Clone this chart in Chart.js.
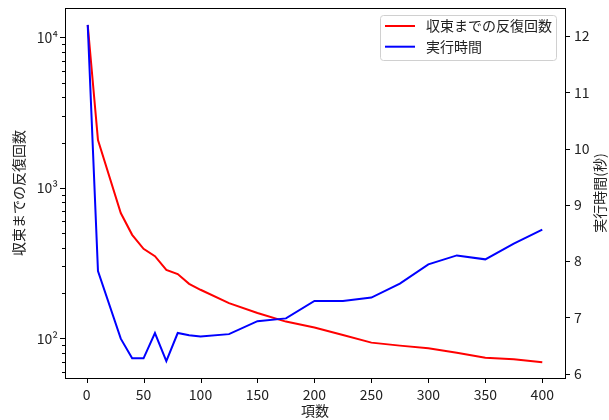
<!DOCTYPE html>
<html>
<head>
<meta charset="utf-8">
<script src="https://cdn.jsdelivr.net/npm/chart.js@4/dist/chart.umd.min.js"></script>
<style>
  html, body { margin: 0; padding: 0; background: #fff; }
  #wrap { width: 609px; height: 420px; position: relative; }
</style>
</head>
<body>
<div id="wrap"><canvas id="chart"></canvas></div>
<script>
// 項数 (x values)
const termCounts = [1, 10, 30, 40, 50, 60, 70, 80, 90, 100, 125, 150, 175, 200, 225, 250, 275, 300, 325, 350, 375, 400];
// 収束までの反復回数 (left, log scale)
const iterations = [12100, 2080, 680, 487, 393, 351, 285, 267, 230, 210, 171, 147, 129, 118, 105, 93.5, 89.3, 85.8, 80.2, 74.3, 72.5, 69.2];
// 実行時間(秒) (right axis)
const runtimes = [12.2, 7.82, 6.62, 6.27, 6.27, 6.72, 6.22, 6.72, 6.68, 6.66, 6.70, 6.93, 6.98, 7.29, 7.29, 7.35, 7.60, 7.94, 8.10, 8.03, 8.31, 8.56];

const xTicks = [0, 50, 100, 150, 200, 250, 300, 350, 400];
const logMajor = [100, 1000, 10000];
const logMinor = [60, 70, 80, 90, 200, 300, 400, 500, 600, 700, 800, 900, 2000, 3000, 4000, 5000, 6000, 7000, 8000, 9000];
const rightTicks = [6, 7, 8, 9, 10, 11, 12];

const seriesLabels = ['収束までの反復回数', '実行時間'];
const seriesColors = ['#ff0000', '#0000ff'];

const FONT = "'Noto Sans CJK JP', 'DejaVu Sans', sans-serif";
const sup = { 2: '²', 3: '³', 4: '⁴' };

// frame, tick marks, right-hand title and legend
const decorPlugin = {
  id: 'decor',
  afterDraw(chart) {
    const ctx = chart.ctx;
    const a = chart.chartArea;
    const sx = chart.scales.x, sy = chart.scales.y, sy1 = chart.scales.y1;
    ctx.save();
    ctx.strokeStyle = '#000';
    ctx.lineWidth = 1;

    // ticks
    ctx.beginPath();
    xTicks.forEach(v => {
      const px = Math.round(sx.getPixelForValue(v)) + 0.5;
      ctx.moveTo(px, a.bottom); ctx.lineTo(px, a.bottom + 5);
    });
    logMajor.forEach(v => {
      const py = Math.round(sy.getPixelForValue(v)) + 0.5;
      ctx.moveTo(a.left, py); ctx.lineTo(a.left - 5, py);
    });
    logMinor.forEach(v => {
      const py = Math.round(sy.getPixelForValue(v)) + 0.5;
      ctx.moveTo(a.left, py); ctx.lineTo(a.left - 3, py);
    });
    rightTicks.forEach(v => {
      const py = Math.round(sy1.getPixelForValue(v)) + 0.5;
      ctx.moveTo(a.right, py); ctx.lineTo(a.right + 5, py);
    });
    ctx.stroke();

    // frame
    ctx.strokeRect(Math.round(a.left) + 0.5, Math.round(a.top) + 0.5,
      Math.round(a.right - a.left), Math.round(a.bottom - a.top));

    // right axis title (reads bottom to top)
    ctx.fillStyle = '#222';
    ctx.font = '14px ' + FONT;
    ctx.textAlign = 'center';
    ctx.textBaseline = 'middle';
    ctx.translate(600, (a.top + a.bottom) / 2);
    ctx.rotate(-Math.PI / 2);
    ctx.fillText('実行時間(秒)', 0, 0);
    ctx.setTransform(1, 0, 0, 1, 0, 0);

    // legend box
    const lx = 380, ly = 15, lw = 176, lh = 45;
    ctx.fillStyle = 'rgba(255,255,255,0.8)';
    ctx.strokeStyle = '#d0d0d0';
    ctx.beginPath();
    ctx.roundRect(lx + 0.5, ly + 0.5, lw, lh, 3);
    ctx.fill();
    ctx.stroke();
    seriesLabels.forEach((lab, i) => {
      const yy = 26 + i * 20.7;
      ctx.strokeStyle = seriesColors[i];
      ctx.lineWidth = 2;
      ctx.beginPath();
      ctx.moveTo(385, yy); ctx.lineTo(415, yy);
      ctx.stroke();
      ctx.fillStyle = '#222';
      ctx.textAlign = 'left';
      ctx.fillText(lab, 426, yy);
    });
    ctx.restore();
  }
};

const noPad = s => { s.paddingTop = 0; s.paddingBottom = 0; s.paddingLeft = 0; s.paddingRight = 0; };

const ctx = document.getElementById('chart').getContext('2d');
new Chart(ctx, {
  type: 'line',
  data: {
    datasets: [
      {
        label: seriesLabels[0],
        data: termCounts.map((x, i) => ({ x, y: iterations[i] })),
        borderColor: seriesColors[0],
        borderWidth: 2,
        pointRadius: 0,
        tension: 0,
        yAxisID: 'y',
        order: 1
      },
      {
        label: seriesLabels[1],
        data: termCounts.map((x, i) => ({ x, y: runtimes[i] })),
        borderColor: seriesColors[1],
        borderWidth: 2,
        pointRadius: 0,
        tension: 0,
        yAxisID: 'y1',
        order: 0
      }
    ]
  },
  options: {
    responsive: true,
    maintainAspectRatio: false,
    animation: false,
    layout: { padding: { top: 8, left: 0, right: 0, bottom: 0 } },
    plugins: {
      legend: { display: false },
      tooltip: { enabled: false }
    },
    scales: {
      x: {
        type: 'linear',
        min: -18.95,
        max: 419.95,
        afterBuildTicks: s => { s.ticks = xTicks.map(v => ({ value: v })); },
        afterFit: s => { s.height = 42; noPad(s); },
        grid: { display: false, drawTicks: false },
        border: { display: false },
        ticks: { color: '#222', font: { family: FONT, size: 14 }, padding: 8, maxRotation: 0, autoSkip: false },
        title: { display: true, text: '項数', color: '#222', font: { family: FONT, size: 14 }, padding: { top: 0, bottom: 1 } }
      },
      y: {
        type: 'logarithmic',
        position: 'left',
        min: 54.4,
        max: 15690,
        afterBuildTicks: s => { s.ticks = logMajor.map(v => ({ value: v, major: true })); },
        afterFit: s => { s.width = 65; noPad(s); },
        grid: { display: false, drawTicks: false },
        border: { display: false },
        ticks: {
          color: '#222', font: { family: FONT, size: 14 }, padding: 7, autoSkip: false,
          callback: v => '10' + sup[Math.round(Math.log10(v))]
        },
        title: { display: true, text: '収束までの反復回数', color: '#222', font: { family: FONT, size: 14 }, padding: { top: 10, bottom: 0 } }
      },
      y1: {
        type: 'linear',
        position: 'right',
        min: 5.92,
        max: 12.5,
        afterBuildTicks: s => { s.ticks = rightTicks.map(v => ({ value: v })); },
        afterFit: s => { s.width = 44; noPad(s); },
        grid: { display: false, drawTicks: false },
        border: { display: false },
        ticks: { color: '#222', font: { family: FONT, size: 14 }, padding: 9, autoSkip: false }
      }
    }
  },
  plugins: [decorPlugin]
});
</script>
</body>
</html>
